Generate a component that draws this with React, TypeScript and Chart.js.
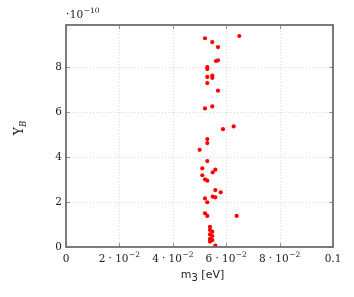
import React, { useEffect, useRef } from "react";
import { Chart, registerables } from "chart.js";

Chart.register(...registerables);

// m3 in eV
const m3: number[] = [
  0.05206, 0.05479, 0.05693, 0.06491, 0.05618, 0.05693, 0.05292, 0.05292,
  0.05292, 0.05479, 0.05479, 0.05292, 0.05693, 0.05206, 0.05479, 0.0588,
  0.0628, 0.05292, 0.05292, 0.05007, 0.05292, 0.05105, 0.05592, 0.05494,
  0.05105, 0.05206, 0.05292, 0.05592, 0.05794, 0.05494, 0.05592, 0.05206,
  0.05292, 0.05206, 0.05292, 0.06393, 0.05393, 0.05393, 0.05479, 0.05393,
  0.05479, 0.05393, 0.05479, 0.05393, 0.05592,
];
// Y_B in units of 1e-10
const yB: number[] = [
  9.28, 9.11, 8.89, 9.38, 8.27, 8.3, 8.0, 7.91,
  7.56, 7.62, 7.52, 7.29, 6.95, 6.16, 6.25, 5.24,
  5.36, 4.8, 4.62, 4.32, 3.82, 3.5, 3.44, 3.32,
  3.19, 3.01, 2.95, 2.53, 2.43, 2.24, 2.21, 2.16,
  1.99, 1.5, 1.38, 1.38, 0.9, 0.76, 0.68, 0.56,
  0.49, 0.36, 0.31, 0.24, 0.06,
];
const xTicks: number[] = [0, 0.02, 0.04, 0.06, 0.08, 0.1];
const xTickMant: string[] = ["0", "2", "4", "6", "8", "0.1"];
const yTicks: number[] = [0, 2, 4, 6, 8];

const SERIF = "'DejaVu Serif', 'Liberation Serif', serif";
const SANS = "'DejaVu Sans', sans-serif";

const decor = {
  id: "decor",
  beforeDatasetsDraw(chart: any) {
    const ctx = chart.ctx;
    const a = chart.chartArea;
    const xs = chart.scales.x;
    const ys = chart.scales.y;
    ctx.save();
    ctx.strokeStyle = "#cfcfcf";
    ctx.lineWidth = 0.8;
    ctx.setLineDash([1, 2]);
    xTicks.forEach((v, i) => {
      if (i === 0 || i === xTicks.length - 1) return;
      const px = Math.round(xs.getPixelForValue(v)) + 0.5;
      ctx.beginPath();
      ctx.moveTo(px, a.top);
      ctx.lineTo(px, a.bottom);
      ctx.stroke();
    });
    yTicks.forEach((v, i) => {
      if (i === 0) return;
      const py = Math.round(ys.getPixelForValue(v)) + 0.5;
      ctx.beginPath();
      ctx.moveTo(a.left, py);
      ctx.lineTo(a.right, py);
      ctx.stroke();
    });
    ctx.setLineDash([]);
    ctx.restore();
  },
  afterDatasetsDraw(chart: any) {
    const ctx = chart.ctx;
    const a = chart.chartArea;
    const xs = chart.scales.x;
    const ys = chart.scales.y;
    ctx.save();
    ctx.strokeStyle = "#777";
    ctx.lineWidth = 0.8;
    const tl = 4;
    xTicks.forEach((v) => {
      const px = Math.round(xs.getPixelForValue(v)) + 0.5;
      ctx.beginPath();
      ctx.moveTo(px, a.bottom);
      ctx.lineTo(px, a.bottom - tl);
      ctx.moveTo(px, a.top);
      ctx.lineTo(px, a.top + tl);
      ctx.stroke();
    });
    yTicks.forEach((v) => {
      const py = Math.round(ys.getPixelForValue(v)) + 0.5;
      ctx.beginPath();
      ctx.moveTo(a.left, py);
      ctx.lineTo(a.left + tl, py);
      ctx.moveTo(a.right, py);
      ctx.lineTo(a.right - tl, py);
      ctx.stroke();
    });
    ctx.strokeStyle = "#6e6e6e";
    ctx.lineWidth = 1.8;
    ctx.strokeRect(a.left, a.top, a.right - a.left, a.bottom - a.top);

    const MAIN = `10.5px ${SERIF}`;
    const SUP = `7.5px ${SERIF}`;
    ctx.fillStyle = "#1a1a1a";
    ctx.font = MAIN;
    ctx.textAlign = "right";
    ctx.textBaseline = "middle";
    yTicks.forEach((v) => {
      const py = ys.getPixelForValue(v);
      ctx.fillText(String(v), a.left - 4, py);
    });
    ctx.textBaseline = "alphabetic";
    const baseY = a.bottom + 15;
    const gap = 3.2;
    xTicks.forEach((v, i) => {
      const px = xs.getPixelForValue(v);
      const mant = xTickMant[i];
      ctx.font = MAIN;
      if (i === 0 || i === xTicks.length - 1) {
        ctx.textAlign = "center";
        ctx.fillText(mant, px, baseY);
        return;
      }
      const wM = ctx.measureText(mant).width;
      const wD = ctx.measureText("\u00B7").width;
      const wT = ctx.measureText("10").width;
      ctx.font = SUP;
      const sup = "\u22122";
      const wS = ctx.measureText(sup).width;
      const total = wM + gap + wD + gap + wT + 0.5 + wS;
      let x0 = px - total / 2;
      ctx.textAlign = "left";
      ctx.font = MAIN;
      ctx.fillText(mant, x0, baseY);
      x0 += wM + gap;
      ctx.fillText("\u00B7", x0, baseY);
      x0 += wD + gap;
      ctx.fillText("10", x0, baseY);
      x0 += wT + 0.5;
      ctx.font = SUP;
      ctx.fillText(sup, x0, baseY - 5);
    });
    // multiplier
    ctx.textAlign = "left";
    ctx.font = MAIN;
    ctx.fillText("\u00B7", a.left, a.top - 7);
    const dw = ctx.measureText("\u00B7").width;
    ctx.fillText("10", a.left + dw + 0.5, a.top - 7);
    const tw = ctx.measureText("10").width;
    ctx.font = SUP;
    ctx.fillText("\u221210", a.left + dw + tw + 1, a.top - 12);

    // x title
    ctx.fillStyle = "#222";
    ctx.font = `11px ${SANS}`;
    const t1 = "m";
    const t3 = " [eV]";
    const wm = ctx.measureText(t1).width;
    ctx.font = `10px ${SANS}`;
    const w3s = ctx.measureText("3").width;
    ctx.font = `11px ${SANS}`;
    const we = ctx.measureText(t3).width;
    const total = wm + w3s + we;
    const cx = (a.left + a.right) / 2 + 3;
    const bx = cx - total / 2;
    const by = a.bottom + 31;
    ctx.fillText(t1, bx, by);
    ctx.font = `10px ${SANS}`;
    ctx.fillText("3", bx + wm, by + 3);
    ctx.font = `11px ${SANS}`;
    ctx.fillText(t3, bx + wm + w3s, by);

    // y title
    ctx.save();
    ctx.fillStyle = "#1a1a1a";
    ctx.translate(23, 128);
    ctx.rotate(-Math.PI / 2);
    ctx.font = `12.5px ${SERIF}`;
    const wy = ctx.measureText("Y").width;
    ctx.font = `italic 8.5px ${SERIF}`;
    const wb = ctx.measureText("B").width;
    const sx = -(wy + wb) / 2;
    ctx.font = `12.5px ${SERIF}`;
    ctx.fillText("Y", sx, 0);
    ctx.font = `italic 8.5px ${SERIF}`;
    ctx.fillText("B", sx + wy, 3);
    ctx.restore();

    ctx.restore();
  },
};

export default function App() {
  const ref = useRef<HTMLCanvasElement | null>(null);
  useEffect(() => {
    if (!ref.current) return;
    const chart = new Chart(ref.current, {
      type: "scatter",
      data: {
        datasets: [
          {
            data: m3.map((x, i) => ({ x, y: yB[i] })),
            backgroundColor: "#ff0000",
            borderColor: "#ff0000",
            pointRadius: 2.1,
            pointStyle: "circle",
            borderWidth: 0,
          },
        ],
      },
      options: {
        responsive: false,
        animation: false,
        layout: { padding: { left: 0, top: 25, right: 21, bottom: 0 } },
        plugins: { legend: { display: false }, tooltip: { enabled: false } },
        scales: {
          x: {
            type: "linear",
            min: 0,
            max: 0.1,
            grid: { display: false },
            border: { display: false },
            ticks: { display: false },
            afterFit: (s: any) => {
              s.height = 50;
            },
          },
          y: {
            type: "linear",
            min: 0,
            max: 9.87,
            grid: { display: false },
            border: { display: false },
            ticks: { display: false },
            afterFit: (s: any) => {
              s.width = 66;
            },
          },
        },
      },
      plugins: [decor],
    });
    return () => chart.destroy();
  }, []);
  return (
    <div style={{ position: "absolute", left: 0, top: 0, width: 354, height: 297, background: "#fff" }}>
      <canvas ref={ref} width={354} height={297} style={{ width: 354, height: 297 }} />
    </div>
  );
}
